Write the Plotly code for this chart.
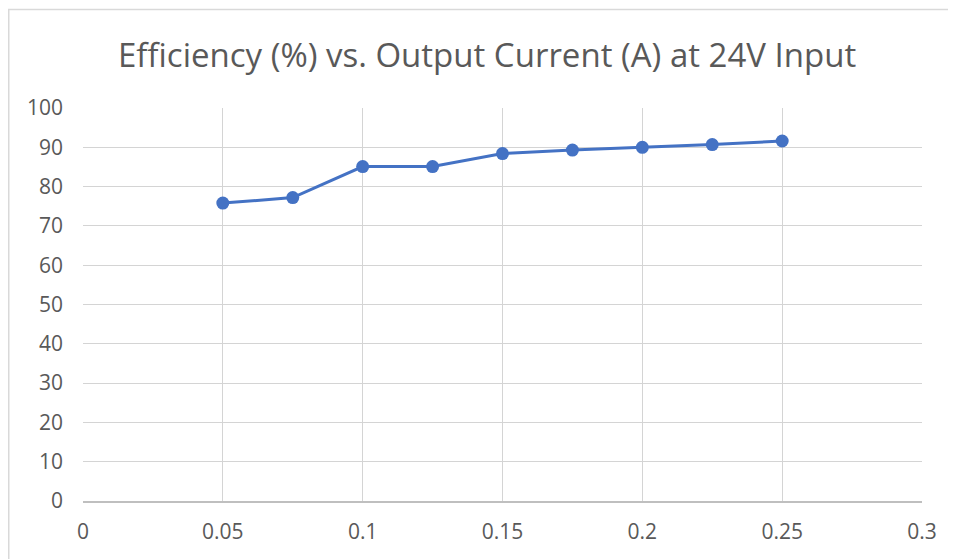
import plotly.graph_objects as go

current_a = [0.05, 0.075, 0.1, 0.125, 0.15, 0.175, 0.2, 0.225, 0.25]
efficiency_pct = [75.8, 77.2, 85.1, 85.1, 88.4, 89.3, 90.0, 90.7, 91.6]
title_text = "Efficiency (%) vs. Output Current (A) at 24V Input"

W, H = 948, 551
L, R, T, B = 75, 34, 100, 58
pw = W - L - R
ph = H - T - B

fig = go.Figure()
fig.add_trace(go.Scatter(
    x=current_a, y=efficiency_pct, mode="lines+markers",
    line=dict(color="#4472C4", width=3),
    marker=dict(color="#4472C4", size=13),
    showlegend=False, cliponaxis=False,
))

# chart-area border (left and top edges visible; the rest is cropped)
fig.add_shape(type="rect", xref="paper", yref="paper",
              x0=(0.75 - L) / pw, x1=1.3, y0=-0.5, y1=(H - B - 1.5) / ph,
              line=dict(color="#d9d9d9", width=1.5), fillcolor="rgba(0,0,0,0)", layer="below")

fig.add_annotation(text=title_text, xref="paper", yref="paper",
                   x=(479 - L) / pw, y=(H - B - 47) / ph, xanchor="center", yanchor="middle",
                   showarrow=False, font=dict(size=33, color="#595959", family="Open Sans"))

fig.update_layout(
    width=W, height=H,
    margin=dict(l=L, r=R, t=T, b=B),
    paper_bgcolor="white", plot_bgcolor="white",
    font=dict(family="Open Sans", color="#595959"),
    xaxis=dict(range=[0, 0.3], dtick=0.05, tick0=0, showgrid=True, gridcolor="#d4d4d4",
               gridwidth=1.3, zeroline=False, showline=True, linecolor="#bfbfbf", linewidth=1.5,
               ticks="", tickfont=dict(size=21, color="#595959"), ticklabelstandoff=11,
               tickformat="~g"),
    yaxis=dict(range=[0, 100], dtick=10, showgrid=True, gridcolor="#d4d4d4", gridwidth=1.3,
               zeroline=False, showline=False, ticks="",
               tickfont=dict(size=21, color="#595959"), ticklabelstandoff=19),
)
fig.write_html("out.html")
